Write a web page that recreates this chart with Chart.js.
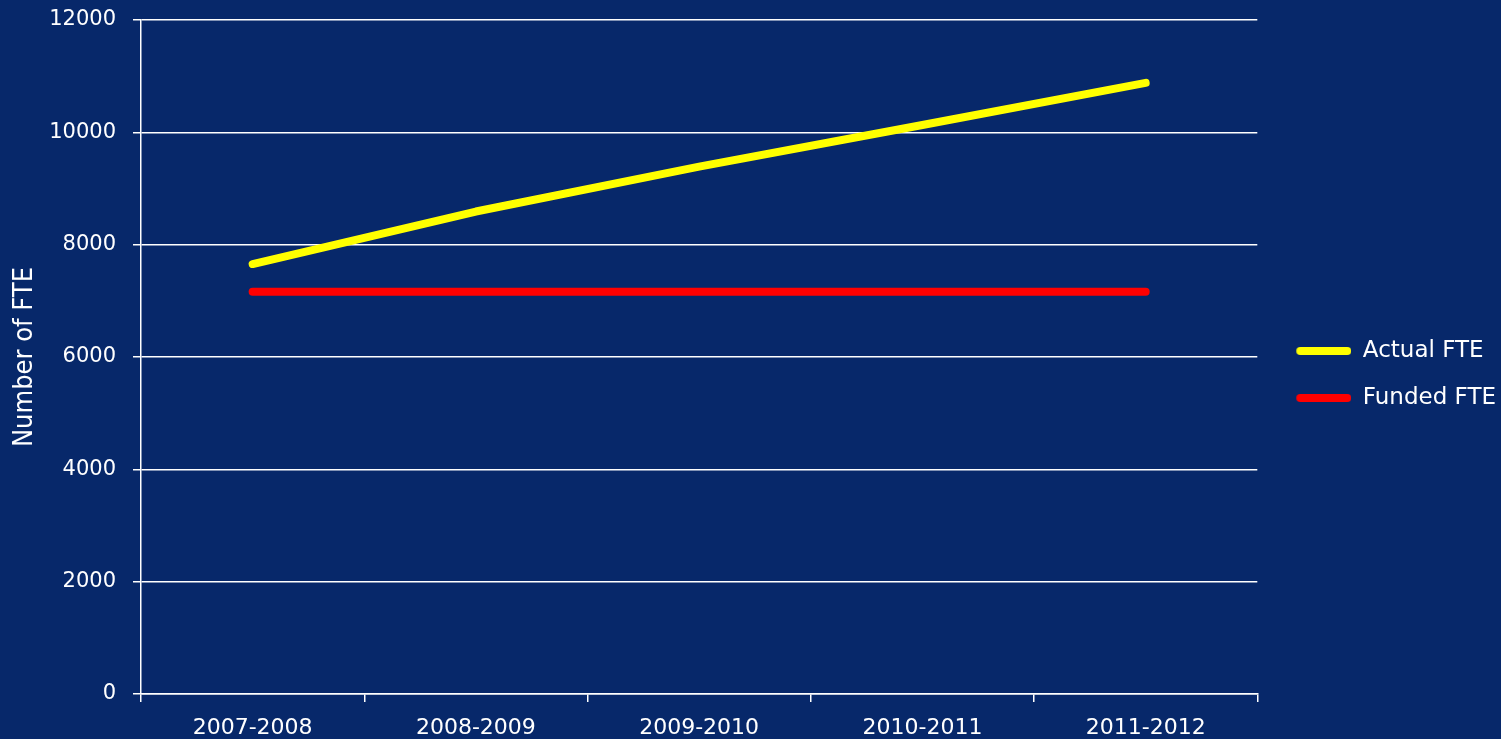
<!DOCTYPE html>
<html lang="en">
<head>
  <meta charset="UTF-8" />
  <title>Actual vs Funded FTE</title>
  <style>
    html, body {
      margin: 0;
      padding: 0;
      background-color: #07286a;
    }
    .wrap {
      position: relative;
      width: 1501px;
      height: 739px;
    }
  </style>
</head>
<body>
  <div class="wrap">
    <canvas id="fteChart"></canvas>
  </div>
  <script src="https://cdn.jsdelivr.net/npm/chart.js"></script>
  <script>
    // values
    const years = ['2007-2008', '2008-2009', '2009-2010', '2010-2011', '2011-2012'];
    const actualFte = [7655, 8590, 9390, 10130, 10880];
    const fundedFte = [7160, 7160, 7160, 7160, 7160];
    const yTicks = [0, 2000, 4000, 6000, 8000, 10000, 12000];

    const family = '"DejaVu Sans", Verdana, sans-serif';

    // legend sample: a short rounded line with some empty room on its left
    function legendSwatch(color) {
      const c = document.createElement('canvas');
      c.width = 70;
      c.height = 12;
      const g = c.getContext('2d');
      g.strokeStyle = color;
      g.lineWidth = 8;
      g.lineCap = 'round';
      g.beginPath();
      g.moveTo(19, 6);
      g.lineTo(66, 6);
      g.stroke();
      return c;
    }

    new Chart(document.getElementById('fteChart'), {
      type: 'line',
      data: {
        labels: years,
        datasets: [
          {
            label: 'Actual FTE',
            data: actualFte,
            borderColor: '#ffff00',
            backgroundColor: '#ffff00',
            borderWidth: 8,
            borderCapStyle: 'round',
            borderJoinStyle: 'round',
            pointRadius: 0,
            pointStyle: legendSwatch('#ffff00'),
            tension: 0
          },
          {
            label: 'Funded FTE',
            data: fundedFte,
            borderColor: '#ff0000',
            backgroundColor: '#ff0000',
            borderWidth: 8,
            borderCapStyle: 'round',
            borderJoinStyle: 'round',
            pointRadius: 0,
            pointStyle: legendSwatch('#ff0000'),
            tension: 0
          }
        ]
      },
      options: {
        responsive: true,
        maintainAspectRatio: false,
        animation: false,
        layout: { padding: { top: 10, left: 0, right: -5, bottom: 0 } },
        plugins: {
          tooltip: { enabled: false },
          legend: {
            position: 'right',
            labels: {
              color: '#ffffff',
              font: { family: family, size: 23 },
              usePointStyle: true,
              pointStyleWidth: 70,
              padding: 24
            }
          }
        },
        scales: {
          x: {
            offset: true,
            afterFit: (axis) => { axis.height = 45; },
            grid: {
              offset: true,
              drawOnChartArea: false,
              drawTicks: true,
              tickLength: 8,
              color: '#ffffff',
              lineWidth: 1.5
            },
            border: { color: '#ffffff', width: 1.5 },
            ticks: { color: '#ffffff', font: { family: family, size: 22 }, padding: 13, maxRotation: 0 }
          },
          y: {
            min: 0,
            max: 12000,
            afterBuildTicks: (axis) => { axis.ticks = yTicks.map(v => ({ value: v })); },
            afterFit: (axis) => {
              axis.width = 141;
              axis.paddingTop = 20;
              axis.paddingBottom = 0;
            },
            grid: {
              color: '#ffffff',
              lineWidth: 1.5,
              drawTicks: true,
              tickLength: 8
            },
            border: { color: '#ffffff', width: 1.5 },
            ticks: {
              color: '#ffffff',
              font: { family: family, size: 21 },
              padding: 17,
              callback: (v) => String(v)
            },
            title: {
              display: true,
              text: 'Number of FTE',
              color: '#ffffff',
              font: { family: '"DejaVu Sans Condensed", "DejaVu Sans", sans-serif', size: 27 },
              padding: { top: 9, bottom: 0 }
            }
          }
        }
      }
    });
  </script>
</body>
</html>
